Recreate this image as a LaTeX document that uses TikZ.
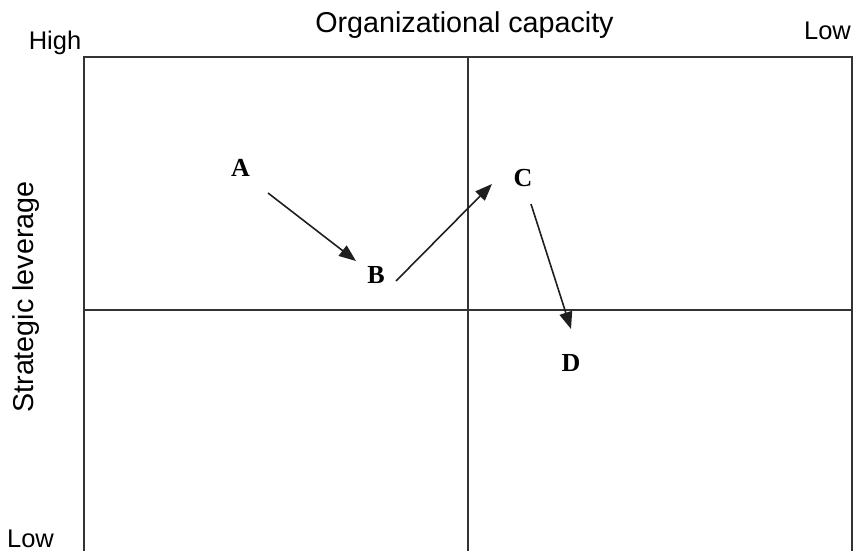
\documentclass[tikz,border=0pt]{standalone}
\usepackage{fontspec}
\setmainfont{Liberation Serif}
\setsansfont{Liberation Sans}
\usetikzlibrary{arrows.meta}
\tikzset{
  axislabel/.style={font=\sffamily\fontsize{28.7}{32}\selectfont, inner sep=0pt, anchor=base},
  endlabel/.style={font=\sffamily\fontsize{25.5}{28}\selectfont, inner sep=0pt, anchor=base},
  pointlabel/.style={font=\rmfamily\bfseries\fontsize{26}{29}\selectfont, inner sep=0pt, anchor=base},
  gridline/.style={draw=black!80, line width=1.6pt},
  move/.style={draw=black!88, line width=1.6pt, -{Triangle[length=17pt,width=13pt]}}
}
\begin{document}
\begin{tikzpicture}[x=1pt,y=-1pt]
\useasboundingbox (0,0) rectangle (853,551);
% frame
\coordinate (tl) at (84,57);
\coordinate (tr) at (852,57);
\coordinate (bl) at (84,551);
\coordinate (br) at (852,551);
\coordinate (vt) at (468,57);
\coordinate (vb) at (468,551);
\coordinate (hl) at (84,310);
\coordinate (hr) at (852,310);
\draw[gridline] (bl) -- (tl) -- (tr) -- (br);
\draw[gridline] (vt) -- (vb);
\draw[gridline] (hl) -- (hr);
% labels
\node[axislabel] (org) at (464.5,33) {Organizational capacity};
\node[axislabel, rotate=90] (lev) at (33,297) {Strategic leverage};
\node[endlabel] (high) at (55,50) {High};
\node[endlabel] (lowtop) at (827.5,40) {Low};
\node[endlabel] (lowleft) at (30.5,547) {Low};
% points
\node[pointlabel] (A) at (240.5,176) {A};
\node[pointlabel] (B) at (376,283) {B};
\node[pointlabel] (C) at (523,186) {C};
\node[pointlabel] (D) at (571,371) {D};
% arrow ends
\coordinate (a1) at (268,193);
\coordinate (b0) at (356,261);
\coordinate (b1) at (396,281);
\coordinate (c0) at (492,184);
\coordinate (c1) at (531,204);
\coordinate (d0) at (571,329);
\draw[move] (a1) -- (b0);
\draw[move] (b1) -- (c0);
\draw[move] (c1) -- (d0);
\end{tikzpicture}
\end{document}
